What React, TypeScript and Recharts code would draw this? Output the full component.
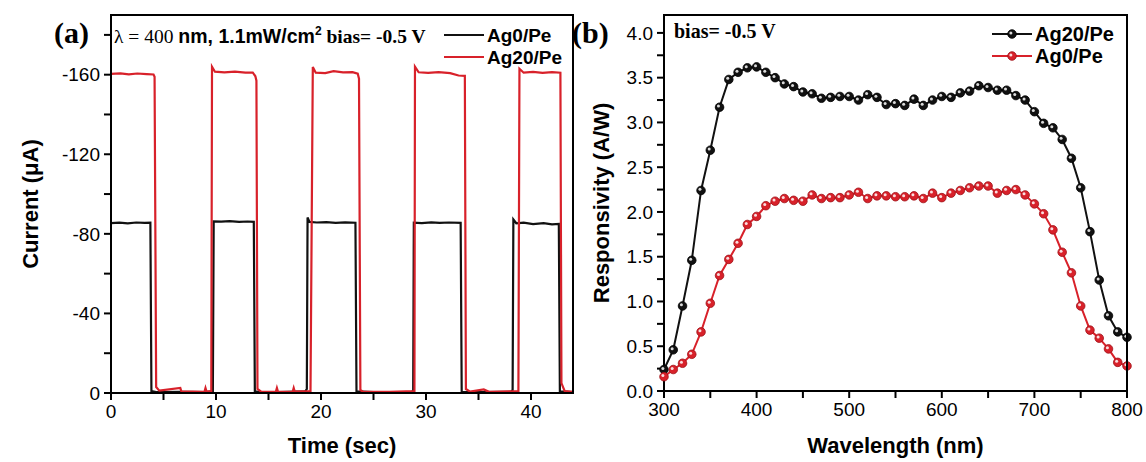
import React from "react";
import { LineChart, Line, XAxis, YAxis, Legend } from "recharts";

const SANS = '"Liberation Sans", Arial, sans-serif';
const SERIF = '"Liberation Serif", "Times New Roman", serif';
const RED = "#d8212a";
const BLACK = "#111111";

// ─── (a) photocurrent vs time ─────────────────────────────────────────────
const ag0Time = [
  0, 0.8, 1.6, 2.4, 3.2, 3.75, 3.85, 4.3, 6.6, 9.0, 9.7, 9.78, 10.5, 11.3, 12.2, 13.0, 13.6,
  13.7, 14.2, 16.0, 18.5, 18.65, 18.72, 18.9, 19.6, 20.5, 21.4, 22.3, 23.28, 23.38, 25.0,
  28.6, 28.78, 28.84, 29.6, 30.5, 31.3, 32.2, 33.3, 33.4, 35.0, 38.1, 38.25, 38.32, 38.6,
  39.3, 40.2, 41.2, 42.0, 42.65, 42.75, 44.0,
];
const ag0Current = [
  -85.4, -85.6, -85.3, -85.7, -85.5, -85.6, -1.0, -0.5, -0.6, -0.5, -0.8, -86.3, -86.1,
  -86.4, -86.0, -86.2, -86.0, -0.8, -0.4, -0.5, -0.8, -2.0, -88.2, -86.0, -85.7, -85.9,
  -85.5, -85.8, -85.6, -0.8, -0.5, -0.6, -0.8, -85.6, -85.4, -85.8, -85.5, -85.7, -85.5,
  -0.6, -0.5, -0.6, -1.5, -87.2, -85.3, -85.6, -84.9, -85.4, -84.8, -85.0, -0.8, -0.5,
];
const ag20Time = [
  0, 0.9, 1.7, 2.5, 3.4, 4.05, 4.15, 4.3, 4.6, 6.6, 6.7, 8.9, 9.0, 9.1, 9.55, 9.62, 9.9,
  10.8, 11.8, 12.8, 13.5, 13.75, 13.85, 13.95, 14.3, 15.7, 15.8, 15.9, 17.3, 17.4, 17.5,
  19.0, 19.22, 19.5, 20.4, 21.2, 22.1, 23.0, 23.5, 23.62, 23.75, 24.0, 26.5, 28.9, 28.95,
  29.3, 30.2, 31.2, 32.3, 33.1, 33.7, 33.8, 34.2, 35.5, 36.0, 38.8, 38.9, 39.3, 40.2, 41.1,
  42.0, 42.8, 42.9, 43.2, 44.0,
];
const ag20Current = [
  -160.4, -160.7, -160.2, -160.6, -160.3, -160.1, -159.0, -3.0, -1.2, -2.5, -0.8, -0.6,
  -2.5, -0.7, -1.0, -164.0, -161.5, -161.2, -161.5, -161.0, -161.1, -159.2, -157.0, -2.0,
  -0.7, -0.6, -2.5, -0.7, -0.6, -2.5, -0.7, -1.0, -163.8, -161.0, -160.8, -161.8, -161.2,
  -161.3, -160.5, -158.0, -1.5, -0.7, -0.6, -1.0, -164.0, -161.2, -160.9, -161.3, -160.8,
  -159.6, -159.4, -2.0, -0.7, -1.8, -0.6, -0.9, -163.0, -161.0, -161.4, -160.9, -161.3,
  -161.0, -5.0, -1.0, -0.6,
];
const timeTicks = [0, 5, 10, 15, 20, 25, 30, 35, 40];
const currentTicks = [-180, -160, -140, -120, -100, -80, -60, -40, -20, 0];
const timeRange = [0, 44];
const currentRange = [-190, 0];

// ─── (b) responsivity vs wavelength ───────────────────────────────────────
const wavelength = [
  300, 310, 320, 330, 340, 350, 360, 370, 380, 390, 400, 410, 420, 430, 440, 450, 460, 470,
  480, 490, 500, 510, 520, 530, 540, 550, 560, 570, 580, 590, 600, 610, 620, 630, 640, 650,
  660, 670, 680, 690, 700, 710, 720, 730, 740, 750, 760, 770, 780, 790, 800,
];
const ag20Resp = [
  0.24, 0.46, 0.95, 1.46, 2.24, 2.69, 3.17, 3.48, 3.56, 3.61, 3.62, 3.56, 3.5, 3.43, 3.4,
  3.34, 3.32, 3.27, 3.28, 3.29, 3.29, 3.25, 3.31, 3.28, 3.2, 3.21, 3.19, 3.26, 3.19, 3.25,
  3.29, 3.28, 3.33, 3.35, 3.41, 3.39, 3.36, 3.36, 3.3, 3.25, 3.12, 2.99, 2.94, 2.81, 2.6,
  2.27, 1.78, 1.24, 0.84, 0.66, 0.6,
];
const ag0Resp = [
  0.16, 0.24, 0.31, 0.41, 0.66, 0.98, 1.29, 1.47, 1.65, 1.86, 1.95, 2.07, 2.12, 2.15, 2.13,
  2.12, 2.19, 2.15, 2.16, 2.16, 2.19, 2.22, 2.15, 2.18, 2.18, 2.17, 2.17, 2.18, 2.15, 2.21,
  2.16, 2.21, 2.24, 2.27, 2.29, 2.29, 2.21, 2.24, 2.25, 2.19, 2.09, 1.98, 1.8, 1.55, 1.32,
  0.95, 0.68, 0.59, 0.47, 0.32, 0.28,
];
const wlTicks = [300, 350, 400, 450, 500, 550, 600, 650, 700, 750, 800];
const respTicks = [
  0, 0.25, 0.5, 0.75, 1, 1.25, 1.5, 1.75, 2, 2.25, 2.5, 2.75, 3, 3.25, 3.5, 3.75, 4,
];
const wlRange = [300, 800];
const respRange = [0, 4.2];

function zip(xs: number[], ys: number[]) {
  return xs.map((x, i) => ({ x, y: ys[i] }));
}

const ag0Series = zip(ag0Time, ag0Current);
const ag20Series = zip(ag20Time, ag20Current);
const ag20Spec = zip(wavelength, ag20Resp);
const ag0Spec = zip(wavelength, ag0Resp);

// plot boxes (px): left chart at x=0, right chart at x=580
const BOX_A = { left: 111, right: 573, top: 15, bottom: 393 };
const BOX_B = { left: 664, right: 1127, top: 15, bottom: 391 };

const tickStyle = { fill: "#000", fontSize: 19, fontFamily: SANS };
const titleStyle = {
  textAnchor: "middle" as const,
  fill: "#000",
  fontSize: 22,
  fontWeight: "bold" as const,
  fontFamily: SANS,
};
const axisLine = { stroke: "#000", strokeWidth: 2 };

// 3D-looking ball marker
function Ball({ cx, cy, color }: { cx: number; cy: number; color: string }) {
  const edge = color === RED ? "#9e1218" : "#000";
  return (
    <g>
      <circle cx={cx} cy={cy} r={4.3} fill={color} stroke={edge} strokeWidth={0.8} />
      <circle cx={cx - 1.1} cy={cy - 1.1} r={1.5} fill="#fff" fillOpacity={0.85} />
    </g>
  );
}

function legendContent(order: string[], withDots: boolean, fontSize: number) {
  return (props: any) => {
    const items = [...(props.payload ?? [])]
      .filter((it: any) => order.includes(it.value))
      .sort((a: any, b: any) => order.indexOf(a.value) - order.indexOf(b.value));
    return (
      <svg width={150} height={48} style={{ overflow: "visible" }}>
        {items.map((it: any, i: number) => (
          <g key={it.value} transform={`translate(0, ${i * 22 + 11})`}>
            <line x1={0} x2={40} y1={0} y2={0} stroke={it.color} strokeWidth={2.2} />
            {withDots && <Ball cx={20} cy={0} color={it.color} />}
            <text
              x={43}
              y={fontSize * 0.36}
              fontFamily={SANS}
              fontWeight="bold"
              fontSize={fontSize}
              fill="#000"
            >
              {it.value}
            </text>
          </g>
        ))}
      </svg>
    );
  };
}

// top and right edge of a plot box, as a bordered div over the chart
function BoxEdges({ b }: { b: typeof BOX_A }) {
  return (
    <div
      style={{
        position: "absolute",
        left: b.left - 1,
        top: b.top - 1,
        width: b.right - b.left,
        height: b.bottom - b.top,
        borderTop: "2px solid #000",
        borderRight: "2px solid #000",
        pointerEvents: "none",
      }}
    />
  );
}

function PhotoCurrent() {
  return (
    <LineChart
      width={600}
      height={462}
      margin={{ top: BOX_A.top, right: 600 - BOX_A.right, bottom: 0, left: 0 }}
      style={{ position: "absolute", left: 0, top: 0 }}
    >
      <XAxis
        dataKey="x"
        type="number"
        domain={timeRange}
        ticks={timeTicks}
        interval={0}
        tickFormatter={(v: number) => (v % 10 === 0 ? String(v) : "")}
        tick={tickStyle}
        tickSize={7}
        tickMargin={5}
        axisLine={axisLine}
        tickLine={axisLine}
        height={462 - BOX_A.bottom}
        label={{ value: "Time (sec)", position: "insideBottom", offset: 9, style: titleStyle }}
      />
      <YAxis
        type="number"
        domain={currentRange}
        reversed
        ticks={currentTicks}
        interval={0}
        tickFormatter={(v: number) => (v % 40 === 0 ? String(v) : "")}
        tick={tickStyle}
        tickSize={7}
        tickMargin={4}
        axisLine={axisLine}
        tickLine={axisLine}
        width={BOX_A.left}
        label={{
          value: "Current (\u03bcA)",
          angle: -90,
          position: "insideLeft",
          offset: 30,
          style: titleStyle,
        }}
      />
      <Legend
        layout="vertical"
        align="center"
        verticalAlign="middle"
        wrapperStyle={{ left: 444, top: 24, width: 150 }}
        content={legendContent(["Ag0/Pe", "Ag20/Pe"], false, 19)}
      />
      <Line
        data={ag0Series}
        dataKey="y"
        name="Ag0/Pe"
        type="linear"
        stroke={BLACK}
        strokeWidth={2.2}
        dot={false}
        isAnimationActive={false}
      />
      <Line
        data={ag20Series}
        dataKey="y"
        name="Ag20/Pe"
        type="linear"
        stroke={RED}
        strokeWidth={2.2}
        dot={false}
        isAnimationActive={false}
      />
    </LineChart>
  );
}

function Responsivity() {
  return (
    <LineChart
      width={566}
      height={462}
      margin={{ top: BOX_B.top, right: 1146 - BOX_B.right, bottom: 0, left: 0 }}
      style={{ position: "absolute", left: 580, top: 0 }}
    >
      <XAxis
        dataKey="x"
        type="number"
        domain={wlRange}
        ticks={wlTicks}
        interval={0}
        tickFormatter={(v: number) => (v % 100 === 0 ? String(v) : "")}
        tick={tickStyle}
        tickSize={7}
        tickMargin={5}
        axisLine={axisLine}
        tickLine={axisLine}
        height={462 - BOX_B.bottom}
        label={{ value: "Wavelength (nm)", position: "insideBottom", offset: 9, style: titleStyle }}
      />
      <YAxis
        type="number"
        domain={respRange}
        ticks={respTicks}
        interval={0}
        tickFormatter={(v: number) => (Math.round(v * 100) % 50 === 0 ? v.toFixed(1) : "")}
        tick={tickStyle}
        tickSize={7}
        tickMargin={4}
        axisLine={axisLine}
        tickLine={axisLine}
        width={BOX_B.left - 580}
        label={{
          value: "Responsivity (A/W)",
          angle: -90,
          position: "insideLeft",
          offset: 21,
          style: titleStyle,
        }}
      />
      <Legend
        layout="vertical"
        align="center"
        verticalAlign="middle"
        wrapperStyle={{ left: 412, top: 23, width: 150 }}
        content={legendContent(["Ag20/Pe", "Ag0/Pe"], true, 20)}
      />
      <Line
        data={ag20Spec}
        dataKey="y"
        name="Ag20/Pe"
        type="linear"
        stroke={BLACK}
        strokeWidth={2}
        dot={(p: any) => <Ball key={`k-${p.index}`} cx={p.cx} cy={p.cy} color={BLACK} />}
        isAnimationActive={false}
      />
      <Line
        data={ag0Spec}
        dataKey="y"
        name="Ag0/Pe"
        type="linear"
        stroke={RED}
        strokeWidth={2}
        dot={(p: any) => <Ball key={`r-${p.index}`} cx={p.cx} cy={p.cy} color={RED} />}
        isAnimationActive={false}
      />
    </LineChart>
  );
}

export default function App() {
  return (
    <div
      style={{
        position: "absolute",
        left: 0,
        top: 0,
        width: 1146,
        height: 462,
        background: "#fff",
        overflow: "hidden",
      }}
    >
      <PhotoCurrent />
      <Responsivity />
      <BoxEdges b={BOX_A} />
      <BoxEdges b={BOX_B} />
      {/* panel tags and in-plot annotations */}
      <svg
        width={1146}
        height={462}
        style={{ position: "absolute", left: 0, top: 0, pointerEvents: "none" }}
      >
        <text x={54} y={43} fontFamily={SERIF} fontWeight="bold" fontSize={30} fill="#000">
          (a)
        </text>
        <text x={114} y={43} fontSize={19.5} fill="#000">
          <tspan fontFamily={SERIF}>{"\u03bb = 400 "}</tspan>
          <tspan fontFamily={SANS} fontWeight="bold">
            nm, 1.1mW/cm
          </tspan>
          <tspan fontFamily={SANS} fontWeight="bold" fontSize={12} dy={-8}>
            2
          </tspan>
          <tspan fontFamily={SERIF} fontWeight="bold" dy={8}>
            {" bias= -0.5 V"}
          </tspan>
        </text>
        <text x={572} y={43} fontFamily={SERIF} fontWeight="bold" fontSize={30} fill="#000">
          (b)
        </text>
        <text x={674} y={38} fontFamily={SERIF} fontWeight="bold" fontSize={20} fill="#000">
          bias= -0.5 V
        </text>
      </svg>
    </div>
  );
}
